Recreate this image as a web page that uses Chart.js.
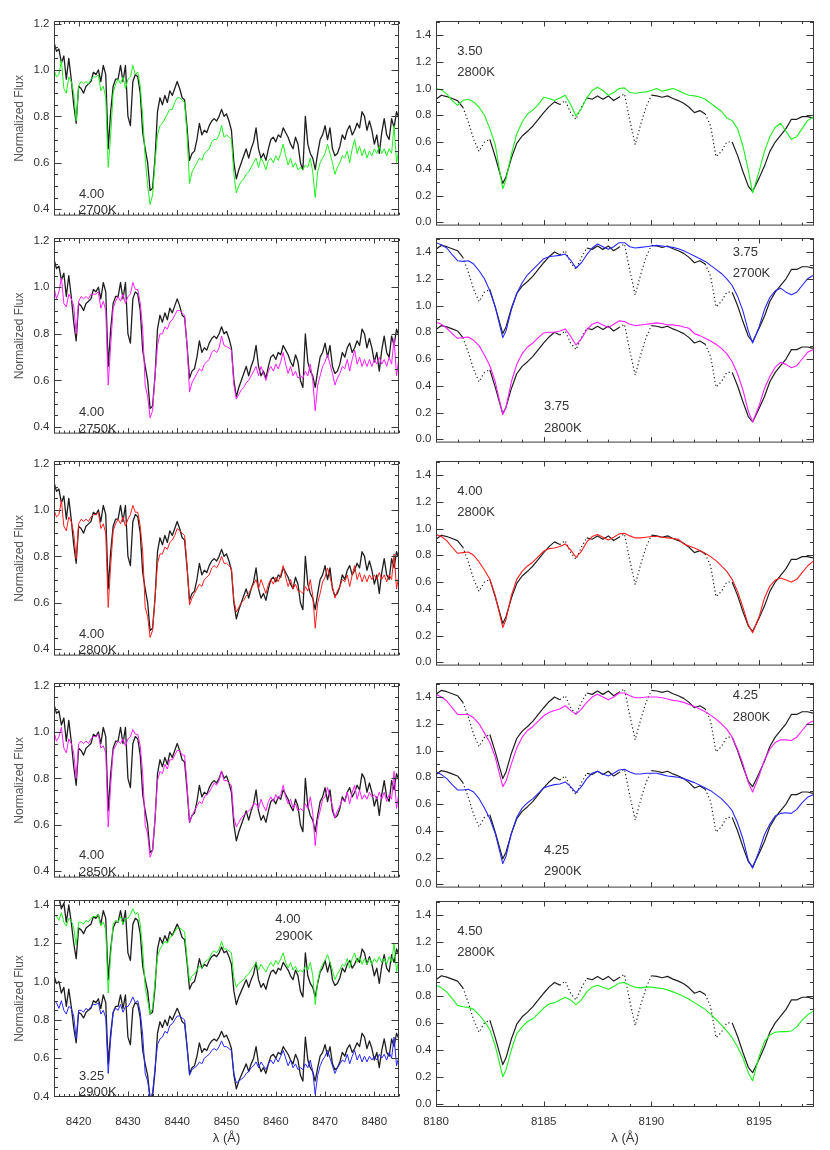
<!DOCTYPE html>
<html><head><meta charset="utf-8">
<script src="https://cdn.jsdelivr.net/npm/chart.js@4/dist/chart.umd.min.js"></script>
<style>
html,body{margin:0;padding:0;background:#fff;}
#page{position:relative;width:830px;height:1150px;overflow:hidden;background:#fff;}
.pn{position:absolute;}
</style></head><body><div id="page"></div>
<script>
// ---------------- DATA ----------------
// wavelength grids (Angstrom)
const leftWave = [
8415.0,8415.5,8416.0,8416.5,8417.0,8417.5,8418.0,8418.5,8419.0,8419.5,
8420.0,8420.5,8421.0,8421.5,8422.0,8422.5,8423.0,8423.5,8424.0,8424.5,
8425.0,8425.5,8426.0,8426.5,8427.0,8427.5,8428.0,8428.5,8429.0,8429.5,
8430.0,8430.5,8431.0,8431.5,8432.0,8432.5,8433.0,8433.5,8434.0,8434.5,
8435.0,8435.5,8436.0,8436.5,8437.0,8437.5,8438.0,8438.5,8439.0,8439.5,
8440.0,8440.5,8441.0,8441.5,8442.0,8442.5,8443.0,8443.5,8444.0,8444.5,
8445.0,8445.5,8446.0,8446.5,8447.0,8447.5,8448.0,8448.5,8449.0,8449.5,
8450.0,8450.5,8451.0,8451.5,8452.0,8452.5,8453.0,8453.5,8454.0,8454.5,
8455.0,8455.5,8456.0,8456.5,8457.0,8457.5,8458.0,8458.5,8459.0,8459.5,
8460.0,8460.5,8461.0,8461.5,8462.0,8462.5,8463.0,8463.5,8464.0,8464.5,
8465.0,8465.5,8466.0,8466.5,8467.0,8467.5,8468.0,8468.5,8469.0,8469.5,
8470.0,8470.5,8471.0,8471.5,8472.0,8472.5,8473.0,8473.5,8474.0,8474.5,
8475.0,8475.5,8476.0,8476.5,8477.0,8477.5,8478.0,8478.5,8479.0,8479.5,
8480.0,8480.5,8481.0,8481.5,8482.0,8482.5,8483.0,8483.5,8484.0,8484.5,
8485.0];
const rightWave = [
8180.00,8180.25,8180.50,8180.75,8181.00,8181.25,8181.50,8181.75,8182.00,8182.25,
8182.50,8182.75,8183.10,8183.25,8183.50,8183.75,8184.00,8184.25,8184.50,8184.75,
8185.00,8185.25,8185.50,8185.75,8186.00,8186.25,8186.50,8186.75,8187.00,8187.25,
8187.50,8187.75,8188.00,8188.25,8188.50,8188.75,8189.00,8189.25,8189.50,8189.75,
8190.00,8190.25,8190.50,8190.75,8191.00,8191.25,8191.50,8191.75,8192.00,8192.25,
8192.50,8192.75,8193.00,8193.25,8193.50,8193.75,8194.00,8194.25,8194.50,8194.70,
8195.00,8195.25,8195.50,8195.75,8196.00,8196.25,8196.50,8196.75,8197.00,8197.25,
8197.50];

// observed spectrum, left column
const obsLeft = [
1.12,1.08,1.09,1.03,1.06,0.96,1.05,0.96,0.85,0.77,
0.93,0.92,0.90,0.93,0.94,0.95,0.99,0.98,1.00,0.95,
1.02,0.98,0.66,0.82,0.93,0.96,0.96,1.02,0.95,1.02,
0.80,0.76,0.95,0.98,0.97,0.90,0.73,0.66,0.60,0.48,
0.49,0.62,0.82,0.88,0.85,0.89,0.86,0.91,0.89,0.92,
0.95,0.92,0.88,0.87,0.75,0.61,0.64,0.65,0.70,0.77,
0.72,0.74,0.73,0.76,0.78,0.79,0.78,0.80,0.83,0.80,
0.81,0.78,0.74,0.60,0.53,0.57,0.60,0.63,0.66,0.62,
0.66,0.69,0.75,0.66,0.62,0.64,0.61,0.66,0.70,0.71,
0.69,0.72,0.71,0.75,0.73,0.71,0.68,0.66,0.71,0.68,
0.60,0.57,0.80,0.68,0.64,0.62,0.57,0.64,0.70,0.72,
0.76,0.70,0.75,0.66,0.63,0.64,0.67,0.72,0.70,0.74,
0.76,0.72,0.74,0.77,0.75,0.82,0.80,0.74,0.78,0.74,
0.68,0.72,0.64,0.73,0.79,0.72,0.70,0.79,0.75,0.82,
0.79];
// models, left column
const modelL_400_2700 = [
1.00,0.97,0.98,1.04,0.92,0.90,0.97,0.95,0.90,0.78,
0.93,0.95,0.94,0.95,0.94,0.96,0.97,0.97,0.98,0.91,
0.93,0.88,0.58,0.72,0.90,0.94,0.96,0.94,0.97,0.92,
0.96,0.97,1.02,0.98,0.99,0.93,0.80,0.62,0.50,0.42,
0.46,0.60,0.72,0.76,0.77,0.79,0.81,0.83,0.83,0.86,
0.88,0.88,0.87,0.86,0.72,0.51,0.56,0.58,0.60,0.62,
0.61,0.64,0.65,0.66,0.69,0.70,0.70,0.72,0.76,0.71,
0.72,0.71,0.70,0.55,0.47,0.50,0.52,0.53,0.55,0.56,
0.58,0.60,0.62,0.58,0.62,0.60,0.57,0.61,0.62,0.60,
0.63,0.61,0.64,0.68,0.63,0.59,0.62,0.58,0.60,0.57,
0.58,0.57,0.59,0.58,0.62,0.56,0.45,0.56,0.60,0.62,
0.64,0.68,0.64,0.60,0.55,0.58,0.60,0.63,0.62,0.65,
0.60,0.66,0.70,0.64,0.67,0.63,0.66,0.62,0.65,0.63,
0.66,0.64,0.67,0.64,0.66,0.63,0.66,0.64,0.76,0.60,
0.66];
const modelL_400_2750 = [
1.00,0.95,0.98,1.04,0.93,0.915,0.97,0.95,0.92,0.80,
0.94,0.96,0.95,0.96,0.95,0.97,0.97,0.97,0.98,0.91,
0.94,0.90,0.58,0.75,0.91,0.94,0.96,0.94,0.97,0.93,
0.96,0.97,1.02,0.99,0.99,0.93,0.82,0.58,0.53,0.44,
0.47,0.62,0.75,0.80,0.80,0.83,0.82,0.85,0.86,0.88,
0.90,0.90,0.89,0.88,0.75,0.55,0.59,0.61,0.63,0.65,
0.64,0.67,0.68,0.69,0.72,0.73,0.72,0.74,0.79,0.75,
0.745,0.74,0.73,0.58,0.52,0.54,0.56,0.57,0.59,0.60,
0.62,0.64,0.66,0.62,0.66,0.63,0.60,0.64,0.66,0.64,
0.67,0.65,0.68,0.72,0.67,0.63,0.66,0.62,0.64,0.61,
0.62,0.61,0.64,0.62,0.67,0.60,0.47,0.58,0.62,0.66,
0.68,0.71,0.67,0.63,0.58,0.61,0.63,0.66,0.65,0.69,
0.64,0.69,0.73,0.67,0.70,0.66,0.69,0.66,0.69,0.66,
0.69,0.67,0.70,0.67,0.69,0.66,0.70,0.67,0.78,0.62,
0.70];
const modelL_400_2800 = [
1.00,0.97,0.98,1.04,0.93,0.91,0.97,0.95,0.90,0.79,
0.94,0.96,0.95,0.96,0.95,0.97,0.98,0.98,0.99,0.92,
0.94,0.90,0.58,0.76,0.91,0.94,0.96,0.94,0.97,0.93,
0.96,0.98,1.02,0.99,0.99,0.93,0.82,0.58,0.54,0.45,
0.48,0.62,0.77,0.81,0.81,0.84,0.83,0.86,0.87,0.89,
0.92,0.91,0.90,0.89,0.76,0.59,0.62,0.64,0.66,0.68,
0.67,0.70,0.71,0.72,0.75,0.76,0.75,0.77,0.80,0.77,
0.77,0.76,0.75,0.61,0.56,0.58,0.60,0.61,0.63,0.64,
0.66,0.68,0.70,0.66,0.70,0.67,0.64,0.68,0.70,0.68,
0.71,0.69,0.72,0.76,0.71,0.67,0.70,0.66,0.68,0.65,
0.65,0.64,0.67,0.65,0.70,0.63,0.49,0.60,0.64,0.69,
0.71,0.75,0.71,0.67,0.62,0.65,0.67,0.70,0.69,0.72,
0.67,0.72,0.76,0.70,0.73,0.69,0.72,0.69,0.72,0.70,
0.72,0.70,0.73,0.70,0.72,0.69,0.72,0.70,0.81,0.66,
0.72];
const modelL_400_2850 = [
1.00,0.96,0.98,1.02,0.93,0.91,0.97,0.95,0.91,0.80,
0.95,0.96,0.95,0.96,0.95,0.97,0.98,0.98,0.99,0.93,
0.94,0.91,0.59,0.77,0.92,0.94,0.96,0.95,0.97,0.94,
0.97,0.98,1.01,0.99,0.99,0.94,0.82,0.60,0.56,0.46,
0.49,0.63,0.79,0.83,0.82,0.86,0.84,0.88,0.88,0.90,
0.92,0.92,0.90,0.90,0.77,0.61,0.64,0.66,0.68,0.70,
0.69,0.72,0.73,0.74,0.76,0.78,0.77,0.79,0.83,0.79,
0.79,0.78,0.77,0.63,0.59,0.61,0.63,0.64,0.65,0.66,
0.67,0.69,0.69,0.67,0.71,0.68,0.66,0.70,0.72,0.70,
0.73,0.71,0.73,0.77,0.72,0.69,0.71,0.67,0.69,0.66,
0.67,0.66,0.69,0.67,0.72,0.65,0.51,0.62,0.66,0.71,
0.72,0.76,0.72,0.68,0.63,0.66,0.68,0.71,0.70,0.74,
0.69,0.74,0.77,0.71,0.75,0.71,0.73,0.71,0.74,0.72,
0.73,0.71,0.74,0.71,0.74,0.70,0.73,0.71,0.83,0.67,
0.74];
const modelL_400_2900 = [
1.35,1.34,1.32,1.36,1.31,1.29,1.33,1.32,1.28,1.19,
1.31,1.31,1.30,1.32,1.31,1.33,1.34,1.34,1.35,1.29,
1.31,1.27,0.94,1.14,1.30,1.32,1.31,1.34,1.30,1.33,
1.33,1.35,1.38,1.35,1.36,1.30,1.17,0.97,0.90,0.83,
0.86,1.00,1.13,1.17,1.19,1.21,1.20,1.23,1.24,1.26,
1.28,1.28,1.27,1.26,1.12,1.00,1.03,1.04,1.06,1.08,
1.07,1.10,1.11,1.12,1.15,1.16,1.15,1.17,1.21,1.17,
1.17,1.16,1.15,1.02,0.97,0.99,1.00,1.01,1.03,1.04,
1.06,1.08,1.10,1.06,1.09,1.07,1.05,1.08,1.10,1.08,
1.11,1.09,1.12,1.15,1.10,1.07,1.10,1.06,1.08,1.05,
1.06,1.05,1.08,1.06,1.10,1.03,0.88,1.00,1.06,1.09,
1.11,1.14,1.10,1.06,1.01,1.04,1.06,1.09,1.08,1.12,
1.07,1.12,1.15,1.10,1.13,1.09,1.12,1.09,1.12,1.09,
1.12,1.10,1.13,1.10,1.12,1.09,1.13,1.10,1.20,1.05,
1.12];
const modelL_325_2900 = [
0.90,0.89,0.86,0.90,0.85,0.83,0.87,0.86,0.82,0.70,
0.85,0.85,0.84,0.86,0.85,0.87,0.88,0.88,0.89,0.83,
0.85,0.81,0.52,0.70,0.84,0.86,0.85,0.88,0.84,0.87,
0.87,0.89,0.92,0.89,0.90,0.84,0.72,0.52,0.48,0.39,
0.42,0.55,0.67,0.70,0.71,0.74,0.73,0.77,0.78,0.80,
0.82,0.82,0.81,0.80,0.66,0.51,0.54,0.55,0.56,0.58,
0.57,0.60,0.61,0.62,0.64,0.65,0.64,0.66,0.69,0.66,
0.66,0.65,0.64,0.52,0.47,0.48,0.49,0.50,0.52,0.53,
0.55,0.56,0.58,0.55,0.58,0.56,0.54,0.57,0.59,0.57,
0.60,0.58,0.61,0.64,0.60,0.56,0.59,0.55,0.57,0.54,
0.55,0.54,0.57,0.55,0.59,0.53,0.41,0.51,0.56,0.59,
0.61,0.64,0.60,0.56,0.52,0.55,0.57,0.59,0.58,0.62,
0.57,0.61,0.64,0.59,0.62,0.58,0.61,0.58,0.61,0.59,
0.61,0.59,0.62,0.60,0.62,0.59,0.63,0.60,0.71,0.56,
0.61];

// observed spectrum, right column
const obsRight = [
0.92,0.95,0.94,0.925,0.91,0.86,0.75,0.62,0.53,0.60,
0.62,0.49,0.29,0.34,0.48,0.59,0.645,0.68,0.72,0.77,
0.82,0.865,0.90,0.88,0.91,0.82,0.77,0.86,0.93,0.92,
0.945,0.92,0.945,0.91,0.935,0.96,0.76,0.58,0.73,0.86,
0.95,0.945,0.935,0.945,0.925,0.91,0.89,0.86,0.82,0.835,
0.81,0.72,0.49,0.53,0.60,0.60,0.50,0.38,0.27,0.23,
0.33,0.42,0.53,0.60,0.65,0.70,0.77,0.77,0.79,0.79,
0.78];
// telluric-contaminated intervals drawn dotted (Angstrom)
const telluricRanges = [[8181.3,8182.45],[8185.8,8186.95],[8188.55,8189.95],[8192.55,8193.7]];
// models, right column
const modelR_350_2800 = [
1.00,0.99,0.96,0.91,0.875,0.91,0.92,0.90,0.86,0.80,
0.70,0.58,0.25,0.32,0.51,0.66,0.75,0.81,0.84,0.88,
0.935,0.925,0.91,0.93,0.95,0.88,0.795,0.85,0.93,0.985,
1.01,0.985,0.95,0.97,1.00,1.005,0.97,0.965,0.97,0.975,
0.985,1.00,0.98,0.99,1.00,0.985,0.965,0.95,0.945,0.937,
0.92,0.89,0.86,0.83,0.78,0.76,0.70,0.57,0.39,0.22,
0.38,0.53,0.64,0.71,0.74,0.68,0.62,0.64,0.70,0.76,
0.785];
const modelR_375_2700 = [
1.47,1.455,1.43,1.38,1.335,1.33,1.335,1.31,1.26,1.20,
1.11,0.99,0.76,0.81,0.97,1.09,1.17,1.23,1.27,1.31,
1.35,1.365,1.37,1.375,1.385,1.34,1.28,1.32,1.38,1.43,
1.46,1.44,1.42,1.44,1.47,1.47,1.44,1.43,1.435,1.44,
1.445,1.45,1.445,1.44,1.435,1.425,1.41,1.39,1.37,1.35,
1.33,1.30,1.27,1.24,1.20,1.15,1.07,0.96,0.81,0.72,
0.84,0.97,1.06,1.11,1.13,1.10,1.08,1.10,1.15,1.20,
1.225];
const modelR_375_2800 = [
0.875,0.86,0.83,0.79,0.755,0.76,0.765,0.74,0.70,0.63,
0.55,0.43,0.185,0.24,0.43,0.56,0.64,0.69,0.72,0.76,
0.795,0.80,0.80,0.81,0.825,0.77,0.705,0.75,0.82,0.86,
0.875,0.855,0.835,0.86,0.885,0.88,0.86,0.85,0.855,0.86,
0.865,0.87,0.865,0.855,0.855,0.85,0.84,0.83,0.79,0.775,
0.755,0.735,0.71,0.68,0.64,0.58,0.49,0.37,0.21,0.13,
0.25,0.38,0.47,0.54,0.575,0.56,0.535,0.55,0.60,0.65,
0.67];
const modelR_400_2800 = [
0.955,0.94,0.91,0.86,0.815,0.82,0.825,0.80,0.75,0.69,
0.62,0.50,0.26,0.32,0.50,0.62,0.68,0.72,0.75,0.79,
0.83,0.85,0.855,0.865,0.885,0.84,0.785,0.83,0.90,0.94,
0.955,0.935,0.915,0.935,0.96,0.965,0.945,0.93,0.93,0.935,
0.94,0.94,0.935,0.93,0.925,0.92,0.885,0.87,0.855,0.835,
0.815,0.79,0.76,0.72,0.68,0.62,0.53,0.41,0.28,0.22,
0.34,0.48,0.57,0.615,0.63,0.615,0.60,0.62,0.67,0.72,
0.755];
const modelR_425_2800 = [
1.42,1.40,1.37,1.32,1.27,1.27,1.27,1.245,1.20,1.13,
1.06,0.95,0.73,0.77,0.90,1.02,1.10,1.15,1.18,1.22,
1.26,1.285,1.30,1.31,1.335,1.30,1.27,1.31,1.36,1.40,
1.42,1.40,1.38,1.40,1.43,1.43,1.41,1.395,1.395,1.40,
1.40,1.40,1.395,1.385,1.375,1.37,1.36,1.345,1.33,1.31,
1.29,1.265,1.235,1.20,1.16,1.10,1.01,0.90,0.76,0.69,
0.81,0.93,1.01,1.06,1.08,1.08,1.075,1.10,1.15,1.20,
1.22];
const modelR_425_2900 = [
0.84,0.82,0.79,0.745,0.705,0.705,0.71,0.69,0.64,0.57,
0.49,0.38,0.155,0.21,0.38,0.50,0.57,0.61,0.64,0.68,
0.72,0.735,0.745,0.75,0.765,0.73,0.685,0.73,0.79,0.83,
0.845,0.825,0.81,0.83,0.855,0.86,0.84,0.825,0.825,0.83,
0.83,0.83,0.82,0.81,0.805,0.80,0.79,0.775,0.76,0.74,
0.72,0.70,0.67,0.64,0.60,0.55,0.46,0.34,0.18,0.12,
0.25,0.37,0.45,0.51,0.53,0.535,0.53,0.56,0.61,0.65,
0.67];
const modelR_450_2800 = [
0.88,0.86,0.83,0.78,0.73,0.72,0.715,0.70,0.66,0.61,
0.55,0.43,0.20,0.25,0.40,0.52,0.57,0.61,0.63,0.67,
0.71,0.74,0.75,0.77,0.79,0.77,0.735,0.77,0.83,0.865,
0.88,0.865,0.85,0.87,0.895,0.90,0.88,0.865,0.86,0.865,
0.865,0.86,0.855,0.845,0.83,0.815,0.795,0.775,0.75,0.725,
0.70,0.665,0.625,0.585,0.54,0.49,0.42,0.34,0.23,0.17,
0.35,0.46,0.51,0.53,0.535,0.535,0.54,0.57,0.62,0.66,
0.685];

// vertical offsets applied to copies of the observed spectrum
const OFFSET_R_UPPER = 0.5, OFFSET_R_LOWER = -0.1;
const OFFSET_L_UPPER = 0.35, OFFSET_L_LOWER = -0.09;

// tick labels
const xTicksLeft = [8420,8430,8440,8450,8460,8470,8480];
const xTicksRight = [8180,8185,8190,8195];
const yTicksLeft = [0.4,0.6,0.8,1.0,1.2];
const yTicksLeftTall = [0.4,0.6,0.8,1.0,1.2,1.4];
const yTicksRight = [0.0,0.2,0.4,0.6,0.8,1.0,1.2,1.4];

// ---------------- STYLE / LAYOUT ----------------
const FF = "'Liberation Sans', Arial, Helvetica, sans-serif";
const AXIS = '#3a3a3a', TEXT = '#333333';
const BLACK = '#1e1e1e', GREEN = '#1ff01f', MAGENTA = '#ff1eff', RED = '#ff1e1e', BLUE = '#2828ff';
const LX = [8415, 8485], RX = [8180, 8197.55];
const LY = [0.372, 1.211], LY5 = [0.397, 1.426], RY = [-0.025, 1.505];

const obsL = (off) => ({v: obsLeft, w: leftWave, off: off || 0, c: BLACK, lw: 1.3, obs: true});
const obsR = (off) => ({v: obsRight, w: rightWave, off: off || 0, c: BLACK, lw: 1.2, obs: true, tell: true});
const modL = (v, c) => ({v, w: leftWave, off: 0, c, lw: 1});
const modR = (v, c) => ({v, w: rightWave, off: 0, c, lw: 1.1});

const panels = [
 {col:'L', rect:[54,21,399,217], xr:LX, xt:xTicksLeft, yr:LY, yt:yTicksLeft,
  lines:[obsL(), modL(modelL_400_2700, GREEN)], notes:[['4.00',79,194],['2700K',79,210.5]]},
 {col:'L', rect:[54,238,399,435], xr:LX, xt:xTicksLeft, yr:LY, yt:yTicksLeft,
  lines:[obsL(), modL(modelL_400_2750, MAGENTA)], notes:[['4.00',79,412.3],['2750K',79,429.3]]},
 {col:'L', rect:[54,461,399,657], xr:LX, xt:xTicksLeft, yr:LY, yt:yTicksLeft,
  lines:[obsL(), modL(modelL_400_2800, RED)], notes:[['4.00',79,634],['2800K',79,650.7]]},
 {col:'L', rect:[54,683,399,879], xr:LX, xt:xTicksLeft, yr:LY, yt:yTicksLeft,
  lines:[obsL(), modL(modelL_400_2850, MAGENTA)], notes:[['4.00',79,855.7],['2850K',79,872.7]]},
 {col:'L', rect:[54,900,399,1097], xr:LX, xt:xTicksLeft, yr:LY5, yt:yTicksLeftTall, bottom:true,
  lines:[obsL(OFFSET_L_UPPER), obsL(OFFSET_L_LOWER), modL(modelL_400_2900, GREEN), modL(modelL_325_2900, BLUE)],
  notes:[['4.00',275.3,919.3],['2900K',275.3,936],['3.25',79,1076.7],['2900K',79,1092.7]]},
 {col:'R', rect:[436,21,814,227], xr:RX, xt:xTicksRight, yr:RY, yt:yTicksRight,
  lines:[obsR(), modR(modelR_350_2800, GREEN)], notes:[['3.50',457.3,51.3],['2800K',457.3,72]]},
 {col:'R', rect:[436,238,814,444], xr:RX, xt:xTicksRight, yr:RY, yt:yTicksRight,
  lines:[obsR(OFFSET_R_UPPER), obsR(OFFSET_R_LOWER), modR(modelR_375_2700, BLUE), modR(modelR_375_2800, MAGENTA)],
  notes:[['3.75',732.7,252.3],['2700K',732.7,273.3],['3.75',544,406.7],['2800K',544,428.3]]},
 {col:'R', rect:[436,461,814,667], xr:RX, xt:xTicksRight, yr:RY, yt:yTicksRight,
  lines:[obsR(), modR(modelR_400_2800, RED)], notes:[['4.00',457.3,491.3],['2800K',457.3,512]]},
 {col:'R', rect:[436,683,814,889], xr:RX, xt:xTicksRight, yr:RY, yt:yTicksRight,
  lines:[obsR(OFFSET_R_UPPER), obsR(OFFSET_R_LOWER), modR(modelR_425_2800, MAGENTA), modR(modelR_425_2900, BLUE)],
  notes:[['4.25',732.7,695.7],['2800K',732.7,717.3],['4.25',544,850.7],['2900K',544,871.7]]},
 {col:'R', rect:[436,901,814,1107], xr:RX, xt:xTicksRight, yr:RY, yt:yTicksRight, bottom:true,
  lines:[obsR(), modR(modelR_450_2800, GREEN)], notes:[['4.50',457.3,931.3],['2800K',457.3,952]]}
];

function inTelluric(ctx) {
  const a = rightWave[ctx.p0DataIndex], b = rightWave[ctx.p1DataIndex];
  const m = (a + b) / 2;
  return telluricRanges.some(r => m > r[0] && m < r[1]);
}

function drawFrame(chart, p, cx, cy) {
  const {ctx, chartArea: a, scales: {x, y}} = chart;
  const isLeft = p.col === 'L';
  ctx.save();
  ctx.strokeStyle = AXIS; ctx.lineWidth = 1;
  const l = a.left + 0.5, r = a.right - 0.5, t = a.top + 0.5, b = a.bottom - 0.5;
  ctx.strokeRect(l, t, r - l, b - t);
  ctx.beginPath();
  const xMajor = isLeft ? 10 : 5;
  for (let v = Math.ceil(p.xr[0]); v <= p.xr[1] + 1e-9; v += 1) {
    const px = Math.round(x.getPixelForValue(v)) + 0.5;
    const major = Math.abs(v % xMajor) < 1e-6;
    const len = major ? 5 : 2.5;
    ctx.moveTo(px, b); ctx.lineTo(px, b - len);
    ctx.moveTo(px, t); ctx.lineTo(px, t + len);
  }
  const yStep = isLeft ? 0.05 : 0.1;
  const per = isLeft ? 4 : 2;
  for (let k = Math.ceil(p.yr[0] / yStep - 1e-9); k * yStep <= p.yr[1] + 1e-9; k++) {
    const v = k * yStep;
    const py = Math.round(y.getPixelForValue(v)) + 0.5;
    const major = (k % per) === 0;
    const len = major ? 7 : 3.5;
    ctx.moveTo(l, py); ctx.lineTo(l + len, py);
    ctx.moveTo(r, py); ctx.lineTo(r - len, py);
  }
  ctx.stroke();
  ctx.fillStyle = TEXT; ctx.font = '13px ' + FF; ctx.textBaseline = 'middle'; ctx.textAlign = 'left';
  p.notes.forEach(n => ctx.fillText(n[0], n[1] - cx, n[2] - cy));
  ctx.restore();
}

const page = document.getElementById('page');
panels.forEach((p, idx) => {
  const [L, T, R, B] = p.rect;
  const isLeft = p.col === 'L';
  const yW = isLeft ? 54 : 40;
  const padT = 12, padR = 8;
  const xH = p.bottom ? 1150 - B : 10;
  const cx = L - yW, cy = T - padT;
  const cw = yW + (R - L) + padR, ch = padT + (B - T) + xH;
  const wrap = document.createElement('div');
  wrap.className = 'pn';
  wrap.style.cssText = `left:${cx}px;top:${cy}px;width:${cw}px;height:${ch}px;`;
  const cv = document.createElement('canvas');
  cv.width = cw; cv.height = ch; cv.style.width = cw + 'px'; cv.style.height = ch + 'px';
  wrap.appendChild(cv); page.appendChild(wrap);

  const datasets = p.lines.map(ln => ({
    data: ln.v.map((v, k) => ({x: ln.w[k], y: +(v + (ln.off || 0)).toFixed(3)})),
    borderColor: ln.c, borderWidth: ln.lw, pointRadius: 0, tension: 0, fill: false, clip: 0,
    borderJoinStyle: 'round', order: ln.obs ? 2 : 1,
    segment: ln.tell ? {borderDash: c => inTelluric(c) ? [1.2, 2.6] : undefined} : undefined
  }));

  new Chart(cv, {
    type: 'line',
    data: {datasets},
    options: {
      responsive: false, animation: false, devicePixelRatio: 1, events: [],
      layout: {autoPadding: false, padding: {top: padT, right: padR, left: 0, bottom: 0}},
      plugins: {legend: {display: false}, tooltip: {enabled: false}},
      scales: {
        x: {
          type: 'linear', position: 'bottom', min: p.xr[0], max: p.xr[1],
          grid: {display: false, drawTicks: false}, border: {display: false},
          ticks: {display: !!p.bottom, autoSkip: false, maxRotation: 0, color: TEXT,
                  padding: isLeft ? 18.1 : 8.1, font: {family: FF, size: 11.5},
                  callback: v => String(v)},
          afterBuildTicks: s => { s.ticks = p.xt.map(v => ({value: v})); },
          afterFit: s => { s.height = xH; },
          title: {display: !!p.bottom, text: 'λ (Å)', color: TEXT,
                  font: {family: FF, size: 13}, padding: {top: 0, bottom: 4.2}}
        },
        y: {
          type: 'linear', position: 'left', min: p.yr[0], max: p.yr[1],
          grid: {display: false, drawTicks: false}, border: {display: false},
          ticks: {color: TEXT, padding: 4.5, font: {family: FF, size: 11.5},
                  callback: v => Number(v).toFixed(1)},
          afterBuildTicks: s => { s.ticks = p.yt.map(v => ({value: v})); },
          afterFit: s => { s.width = yW; },
          title: {display: isLeft, text: 'Normalized Flux', color: '#555',
                  font: {family: FF, size: 12}, padding: {top: 12.8, bottom: 0}}
        }
      }
    },
    plugins: [{id: 'frame' + idx, afterDatasetsDraw(chart) { drawFrame(chart, p, cx, cy); }}]
  });
});
</script></body></html>
